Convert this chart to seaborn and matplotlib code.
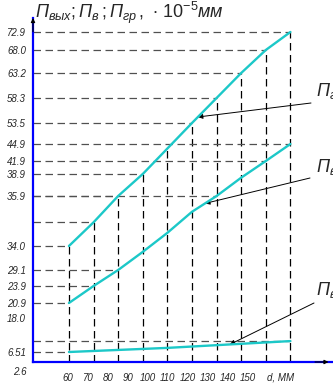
import numpy as np
import pandas as pd
import matplotlib
matplotlib.use('Agg')
import matplotlib.pyplot as plt
import seaborn as sns

# data
d = [60, 70, 80, 90, 100, 110, 120, 130, 140, 150]
p_gr = [34.0, 34.9, 35.9, 38.9, 44.1, 53.5, 58.3, 63.2, 68.0, 72.9]
p_v = [20.9, 23.9, 29.1, 32.8, 34.5, 35.3, 35.9, 38.4, 41.9, 44.9]
d_vyh = [60, 100, 150]
p_vyh = [6.51, 7.9, 10.2]

ytick_vals = [6.51, 18.0, 20.9, 23.9, 29.1, 34.0, 35.9, 38.9, 41.9, 44.9,
              53.5, 58.3, 63.2, 68.0, 72.9]
ytick_low = 2.6

# which points get a horizontal guide to the y axis
h_gr = [60, 70, 80, 90, 110, 120, 130, 140, 150]
h_v = [60, 70, 80, 120, 140, 150]
h_vyh = [60, 150]

# the y scale on the original is not linear: value -> height (px above x axis)
scale_vals = [0.0, 2.6, 6.51, 18.0, 20.9, 23.9, 29.1, 34.0, 35.9, 38.9, 41.9,
              44.9, 53.5, 58.3, 63.2, 68.0, 72.9, 85.0]
scale_px = [-23, -10, 10, 44, 59, 76, 92, 116, 166, 188, 201, 218, 239, 264,
            289, 312, 330, 374]

def fwd(v):
    return np.interp(v, scale_vals, scale_px)

def inv(p):
    return np.interp(p, scale_px, scale_vals)

def on_line(x, xs, ys):
    return inv(np.interp(x, xs, fwd(np.array(ys))))

def fmt(v):
    return '6.51' if v == 6.51 else f'{v:.1f}'

sns.set_style('white')
plt.rcParams['font.family'] = ['Liberation Sans', 'DejaVu Sans']
plt.rcParams['mathtext.fontset'] = 'custom'
plt.rcParams['mathtext.it'] = 'Liberation Sans:italic'
plt.rcParams['mathtext.rm'] = 'Liberation Sans'
plt.rcParams['mathtext.default'] = 'it'

W, H = 333, 384
fig = plt.figure(figsize=(W / 100, H / 100), dpi=100)
ax = fig.add_axes([33 / W, 22 / H, 300 / W, 344 / H])
ax.set_yscale('function', functions=(fwd, inv))

x0, x1 = 45.4, 167.3
y0, y1 = float(inv(0)), float(inv(344))
ax.set_xlim(x0, x1)
ax.set_ylim(y0, y1)

cyan = '#1cc8c8'
df = pd.DataFrame({
    'd': d + d + d_vyh,
    'P': p_gr + p_v + p_vyh,
    'name': ['gr'] * len(d) + ['v'] * len(d) + ['vyh'] * len(d_vyh),
})
sns.lineplot(data=df, x='d', y='P', hue='name',
             palette={'gr': cyan, 'v': cyan, 'vyh': cyan},
             lw=1.7, legend=False, ax=ax, zorder=5)

# dashed guides
for x, y in zip(d, p_gr):
    ax.plot([x, x], [y0, y], color='black', lw=0.9, dashes=(6, 3.6), zorder=2)
for xs_h, xs, ys in [(h_gr, d, p_gr), (h_v, d, p_v), (h_vyh, d_vyh, p_vyh)]:
    for x in xs_h:
        y = on_line(x, xs, ys)
        ax.plot([x0, x], [y, y], color='#505050', lw=0.9, dashes=(6, 3.6), zorder=2)

# axes in blue with black arrow heads
for s in ['top', 'right']:
    ax.spines[s].set_visible(False)
for s in ['left', 'bottom']:
    ax.spines[s].set_color('blue')
    ax.spines[s].set_linewidth(1.6)
ax.annotate('', xy=(0, 1), xycoords='axes fraction', xytext=(0, 0.96),
            arrowprops=dict(arrowstyle='-|>', color='black', lw=0.8,
                            mutation_scale=6, shrinkA=0, shrinkB=0))
ax.annotate('', xy=(0.985, 0), xycoords='axes fraction', xytext=(0.94, 0),
            arrowprops=dict(arrowstyle='-|>', color='black', lw=0.8,
                            mutation_scale=6, shrinkA=0, shrinkB=0))

# ticks
ax.set_yticks(ytick_vals)
ax.set_yticklabels([fmt(v) for v in ytick_vals], fontsize=7, fontstyle='italic')
ax.text(-6 / 300, ytick_low, f'{ytick_low:g}', transform=ax.get_yaxis_transform(),
        ha='right', va='center', fontsize=7, fontstyle='italic', clip_on=False)
# the tick numbers sit closer together than the grid lines on the original
lbl_pos = [60 + (x - 60) * 0.81 - 0.4 for x in d]
ax.set_xticks(lbl_pos)
ax.set_xticklabels([str(x) for x in d], fontsize=7, fontstyle='italic')
ax.text(145.8, -15 / 344, 'd, ММ', transform=ax.get_xaxis_transform(),
        ha='center', va='center', fontsize=7, fontstyle='italic')
ax.tick_params(length=0, pad=5)
ax.tick_params(axis='x', pad=8)
ax.set_xlabel('')
ax.set_ylabel('')

fig.text(35 / W, 1 - 18 / H, r'$П_{вых};П_{в}\,;П_{гр}\,,\,\bullet\,10^{-5}мм$',
         fontsize=13, va='baseline', ha='left')

# labels on the right edge with arrows to the curves
notes = [(r'$П_{гр}$', 93, (311, 103), 112.4, d, p_gr),
         (r'$П_{в}$', 167, (310, 178), 115.3, d, p_v),
         (r'$П_{вых}$', 290, (314, 303), 125.4, d_vyh, p_vyh)]
for txt, ty, (sx, sy), xt, xs, ys in notes:
    fig.text(316 / W, 1 - ty / H, txt, fontsize=13, va='center', ha='left')
    ax.annotate('', xy=(xt, on_line(xt, xs, ys)), xycoords='data',
                xytext=(sx, H - sy), textcoords='figure pixels',
                arrowprops=dict(arrowstyle='-|>', color='black', lw=0.7,
                                mutation_scale=7, shrinkA=0, shrinkB=0),
                annotation_clip=False)

fig.savefig('out.png', dpi=100)
